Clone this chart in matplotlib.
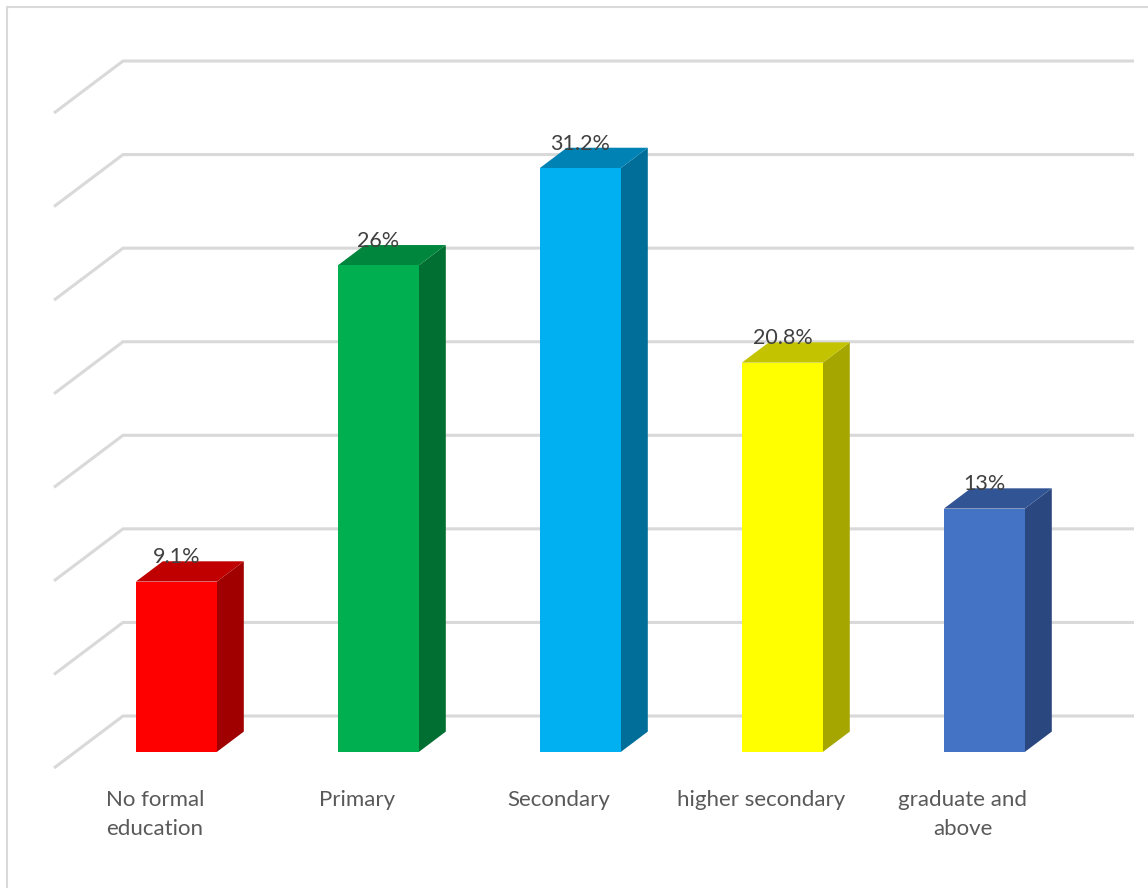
import matplotlib
matplotlib.use("Agg")
import matplotlib.pyplot as plt
from matplotlib.patches import Polygon

plt.rcParams['font.family'] = ['Lato', 'DejaVu Sans']

categories = ["No formal\neducation", "Primary", "Secondary", "higher secondary", "graduate and\nabove"]
values = [9.1, 26, 31.2, 20.8, 13]
labels = ["9.1%", "26%", "31.2%", "20.8%", "13%"]
front_colors = ["#FF0000", "#00B050", "#00B0F0", "#FFFF00", "#4472C4"]
top_colors = ["#C00000", "#00873D", "#0083B4", "#C3C300", "#315495"]
side_colors = ["#A00000", "#006F31", "#006E98", "#A6A600", "#2A477F"]
gridlines = [0, 5, 10, 15, 20, 25, 30, 35]

W, H = 1148, 888
fig = plt.figure(figsize=(W / 100, H / 100), dpi=100)
ax = fig.add_axes([0, 0, 1, 1])
ax.set_axis_off()

# pixel geometry of the plot (used only to set the data limits)
px_per_cat = 202.0
px_per_val = 18.714
x_left_px, v0_px = 123.0, 716.0
ax.set_xlim(-0.5 - x_left_px / px_per_cat, -0.5 + (W - x_left_px) / px_per_cat)
ax.set_ylim(-(H - v0_px) / px_per_val, v0_px / px_per_val)

# oblique depth: full depth shift (back wall -> front) in data units
DX = -69.0 / px_per_cat
DY = -52.0 / px_per_val


def proj(x, v, d):
    """Project (category x, value v, depth d) with d=1 at back wall, d=0 at front."""
    return (x + DX * (1 - d), v + DY * (1 - d))


grid_col = "#D9D9D9"
xl, xr = -0.5, 4.5 + 1.0 / px_per_cat
for g in gridlines:
    p0 = proj(xl, g, 0)
    p1 = proj(xl, g, 1)
    p2 = proj(xr, g, 1)
    ax.plot([p0[0], p1[0], p2[0]], [p0[1], p1[1], p2[1]], color=grid_col,
            lw=2.2, solid_capstyle='butt', solid_joinstyle='miter', zorder=1)

# bars
half_w = 40.5 / px_per_cat
d_front, d_back = 0.31, 0.70
for i, (v, fc, tc, sc, lab) in enumerate(zip(values, front_colors, top_colors, side_colors, labels)):
    x0, x1 = i - half_w, i + half_w
    front = [proj(x0, 0, d_front), proj(x1, 0, d_front), proj(x1, v, d_front), proj(x0, v, d_front)]
    side = [proj(x1, 0, d_front), proj(x1, 0, d_back), proj(x1, v, d_back), proj(x1, v, d_front)]
    top = [proj(x0, v, d_front), proj(x1, v, d_front), proj(x1, v, d_back), proj(x0, v, d_back)]
    ax.add_patch(Polygon(side, closed=True, facecolor=sc, edgecolor='none', zorder=3))
    ax.add_patch(Polygon(top, closed=True, facecolor=tc, edgecolor='none', zorder=3))
    ax.add_patch(Polygon(front, closed=True, facecolor=fc, edgecolor='none', zorder=4))
    lx, ly = proj(i, v, d_back)
    cx, _ = proj(i, v, d_front)
    ax.text(cx, ly + 0.22, lab, ha='center', va='center', fontsize=15.5,
            color='#404040', zorder=5)

# category labels along the front of the floor
for i, c in enumerate(categories):
    cx, cy = proj(i, 0, 0)
    ax.text(cx, cy - 1.15, c, ha='center', va='top', fontsize=16, color='#595959',
            linespacing=1.62, zorder=5)

# chart area border (left and top edges)
ax.add_patch(plt.Rectangle((6.5 / W, -0.1), 1.2, 1.1 - 7.5 / H, transform=fig.transFigure,
                           fill=False, edgecolor='#D9D9D9', lw=1.5, zorder=0))

fig.savefig("out.png", dpi=100, facecolor='white')
